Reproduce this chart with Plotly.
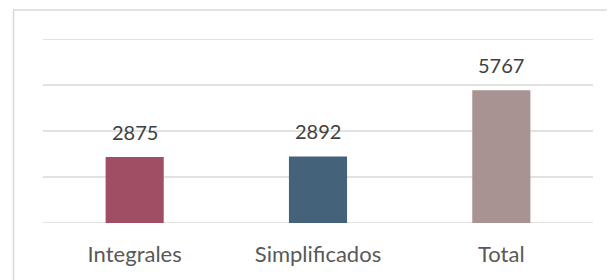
import plotly.graph_objects as go

categories = ["Integrales", "Simplificados", "Total"]
values = [2875, 2892, 5767]
colors = ["#A04E63", "#44627A", "#A89292"]
y_ticks = [0, 2000, 4000, 6000, 8000]

# page body has an 8px default margin; figure sized to fit the window
OFF = 8
W, H = 615 - OFF, 280 - OFF
L, R, T, B = 43 - OFF, 22, 39 - OFF, 57
pw, ph = W - L - R, H - T - B

def px_to_paper_x(px):
    return (px - OFF - L) / pw

def px_to_paper_y(py):
    return (H - B - (py - OFF)) / ph

fig = go.Figure()
fig.add_trace(go.Bar(
    x=categories, y=values,
    marker=dict(color=colors, line=dict(width=0)),
    hoverinfo="skip",
))

annotations = []
for c, v in zip(categories, values):
    annotations.append(dict(
        x=c, y=v, xref="x", yref="y", text=str(v), showarrow=False,
        yanchor="bottom", yshift=11,
        font=dict(family="Lato", size=20, color="#404040"),
    ))

shapes = [dict(
    type="rect", xref="paper", yref="paper",
    x0=px_to_paper_x(13.5), x1=px_to_paper_x(640),
    y0=px_to_paper_y(320), y1=px_to_paper_y(10),
    line=dict(color="#D9D9D9", width=1.5), fillcolor="rgba(0,0,0,0)",
    layer="below",
)]
for t in y_ticks:
    shapes.append(dict(
        type="line", xref="paper", yref="y", x0=0, x1=1, y0=t, y1=t,
        line=dict(color="#D9D9D9", width=1.5), layer="below",
    ))

fig.update_layout(
    width=W, height=H,
    margin=dict(l=L, r=R, t=T, b=B, pad=0),
    paper_bgcolor="white", plot_bgcolor="rgba(0,0,0,0)",
    bargap=0.683,
    showlegend=False,
    annotations=annotations,
    shapes=shapes,
    xaxis=dict(
        range=[-0.5, 2.5], showgrid=False, zeroline=False, showline=False,
        ticks="", tickfont=dict(family="Lato", size=22, color="#595959"),
        ticklabelstandoff=16,
    ),
    yaxis=dict(
        range=[0, 8000], tickvals=y_ticks, showticklabels=False,
        showgrid=False, zeroline=False, showline=False,
    ),
)

fig.write_html("out.html")
